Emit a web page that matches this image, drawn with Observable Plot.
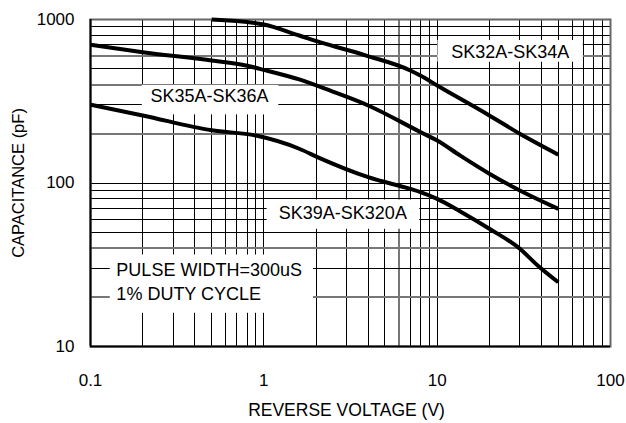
<!DOCTYPE html>
<html>
<head>
<meta charset="utf-8">
<script src="https://cdn.jsdelivr.net/npm/d3@7"></script>
<script src="https://cdn.jsdelivr.net/npm/@observablehq/plot@0.6"></script>
<style>
  html, body { margin: 0; padding: 0; background: #fff; }
</style>
</head>
<body>
<div id="chart"></div>
<script>
// Reverse voltage (V) and capacitance (pF)
const seriesNames = ["SK32A-SK34A", "SK35A-SK36A", "SK39A-SK320A"];

const sk32V = [0.5, 1, 1.6, 2.1, 3.9, 7, 8, 10, 20, 30, 50];
const sk32C = [1000, 932, 798, 727, 602, 488, 454, 395, 259, 200, 149];

const sk35V = [0.1, 0.2, 0.5, 0.8, 1, 1.6, 2.4, 4, 8, 10, 13.6, 20, 30, 50];
const sk35C = [700, 631, 561, 521, 492, 430, 368, 298, 205, 182, 147, 114, 90, 69.5];

const sk39V = [0.1, 0.2, 0.5, 0.9, 1.6, 2.1, 4, 7, 8, 10, 13.6, 20, 30, 38, 50];
const sk39C = [301, 259, 210, 195, 162, 142, 108.5, 92, 88, 80, 67, 52.5, 39.6, 31.3, 24.7];

const xTicks = [0.1, 1, 10, 100];
const yTicks = [10, 100, 1000];

const xGridBlack = [0.2, 0.3, 0.4, 0.5, 0.6, 0.7, 0.8, 0.9, 1, 2, 3, 4, 5, 7, 8, 9, 10, 20, 30, 40, 50, 60, 70, 80, 90];
const xGridGrey = [6];
const yGridBlack = [30, 50, 60, 70, 80, 90, 100, 300, 500, 700, 800, 900];
const yGridGrey = [20, 40, 200, 400, 600];

const noteLines = ["PULSE WIDTH=300uS", "1% DUTY CYCLE"];

// label anchors / boxes, in data units
const curveLabels = [
  {v: 12.05, c: 628, text: seriesNames[0]},
  {v: 0.222, c: 338, text: seriesNames[1]},
  {v: 1.22, c: 65.5, text: seriesNames[2]},
  {v: 0.141, c: 29.2, text: noteLines[0]},
  {v: 0.141, c: 21.0, text: noteLines[1]}
];
const labelBoxes = [
  {v1: 10.1, v2: 69.6, c1: 744, c2: 548},
  {v1: 0.199, v2: 1.22, c1: 395, c2: 261},
  {v1: 1.045, v2: 7.94, c1: 78.7, c2: 52.1},
  {v1: 0.13, v2: 1.935, c1: 36.3, c2: 15.96}
];

const data = [
  ...sk32V.map((v, i) => ({series: seriesNames[0], v, c: sk32C[i]})),
  ...sk35V.map((v, i) => ({series: seriesNames[1], v, c: sk35C[i]})),
  ...sk39V.map((v, i) => ({series: seriesNames[2], v, c: sk39C[i]}))
];

const font = "'Liberation Sans', Arial, Helvetica, sans-serif";

const chart = Plot.plot({
  width: 626,
  height: 423,
  marginLeft: 90,
  marginRight: 16,
  marginTop: 19,
  marginBottom: 77,
  style: {fontFamily: font, fontSize: "17px", background: "white", color: "#000"},
  x: {type: "log", domain: [0.1, 100]},
  y: {type: "log", domain: [10, 1000]},
  marks: [
    Plot.ruleX(xGridBlack, {stroke: "#000", strokeWidth: 1, shapeRendering: "crispEdges"}),
    Plot.ruleX(xGridGrey, {stroke: "#777", strokeWidth: 2, shapeRendering: "crispEdges"}),
    Plot.ruleY(yGridBlack, {stroke: "#000", strokeWidth: 1, shapeRendering: "crispEdges"}),
    Plot.ruleY(yGridGrey, {stroke: "#777", strokeWidth: 2, shapeRendering: "crispEdges"}),
    Plot.rect(labelBoxes, {x1: "v1", x2: "v2", y1: "c1", y2: "c2", fill: "white"}),
    Plot.frame({stroke: "#666", strokeWidth: 2}),
    Plot.ruleX([0.1], {stroke: "#000", strokeWidth: 2}),
    Plot.ruleY([10], {stroke: "#000", strokeWidth: 2}),
    Plot.line(data, {x: "v", y: "c", z: "series", stroke: "#000", strokeWidth: 4, curve: "monotone-x", strokeLinecap: "butt"}),
    Plot.text(curveLabels, {x: "v", y: "c", text: "text", textAnchor: "start", lineAnchor: "middle", fontSize: 18, fill: "#000"}),
    Plot.axisX({ticks: xTicks, tickSize: 0, tickPadding: 27, tickFormat: d => String(d), label: null, fontSize: 17}),
    Plot.axisY({ticks: yTicks, tickSize: 0, tickPadding: 16, tickFormat: d => String(d), label: null, fontSize: 17}),
    Plot.text(["REVERSE VOLTAGE (V)"], {text: d => d, frameAnchor: "bottom", dy: 64, dx: -4, fontSize: 17.5, textAnchor: "middle", lineAnchor: "middle"}),
    Plot.text(["CAPACITANCE (pF)"], {text: d => d, frameAnchor: "left", dx: -72, rotate: -90, fontSize: 16.5, textAnchor: "middle", lineAnchor: "middle"})
  ]
});
document.getElementById("chart").appendChild(chart);
</script>
</body>
</html>
